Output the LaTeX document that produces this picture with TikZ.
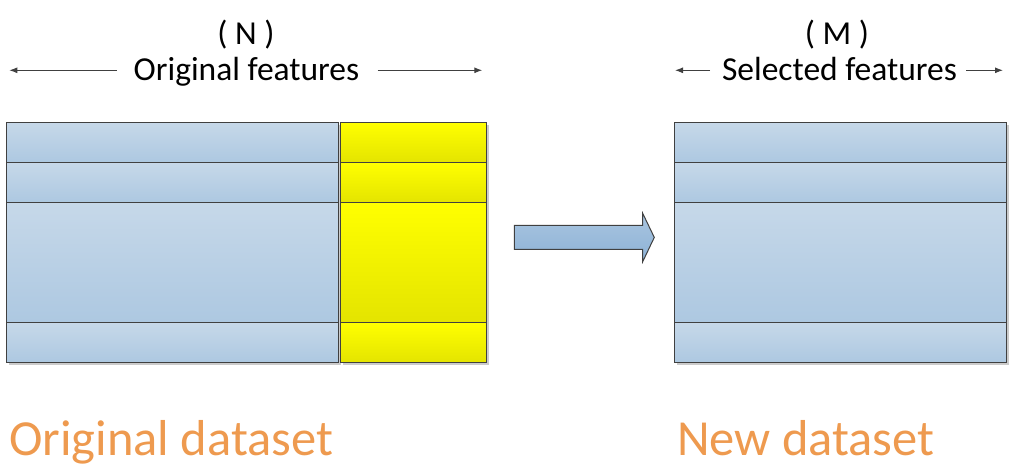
\documentclass[tikz,border=0pt]{standalone}
\usepackage{fontspec}
\setmainfont{Carlito}
\usetikzlibrary{arrows.meta}
\definecolor{bluetop}{HTML}{C6D8E9}
\definecolor{bluebot}{HTML}{ADC8E1}
\definecolor{yeltop}{HTML}{FFFF00}
\definecolor{yelbot}{HTML}{E4E400}
\definecolor{arrtop}{HTML}{A9C5E0}
\definecolor{arrbot}{HTML}{8DB2D6}
\definecolor{edge}{HTML}{404040}
\definecolor{shadowgray}{HTML}{CBCBCB}
\definecolor{orangetxt}{HTML}{EE9A4F}
\tikzset{
  cellbase/.style={draw=edge, line width=1.4pt, inner sep=0pt, outer sep=0pt, anchor=north west, minimum height=40pt},
  bluecell/.style={cellbase, top color=bluetop, bottom color=bluebot},
  yelcell/.style={cellbase, top color=yeltop, bottom color=yelbot},
  bigarrow/.style={draw=edge, line width=1pt, top color=arrtop, bottom color=arrbot, line join=miter},
  headtxt/.style={anchor=base, inner sep=0pt, font=\fontsize{33.5}{40}\selectfont},
  bigtxt/.style={anchor=base west, inner sep=0pt, text=orangetxt, font=\fontsize{50.5}{60}\selectfont},
  dimline/.style={draw=edge, line width=1pt, -{Latex[length=8pt,width=6pt]}}
}
\begin{document}
\begin{tikzpicture}[x=1pt,y=-1pt]
\useasboundingbox (0,0) rectangle (1017,468);
% shadows
\fill[shadowgray] (9.2,124.8) rectangle (341.2,364.8);
\fill[shadowgray] (343.2,124.8) rectangle (489.2,364.8);
\fill[shadowgray] (676.8,124.8) rectangle (1009.2,364.8);
% left blue column
\node[bluecell, minimum width=332pt] (b1) at (6.7,122.3) {};
\node[bluecell, minimum width=332pt] (b2) at (6.7,162.3) {};
\node[bluecell, minimum width=332pt, minimum height=120pt] (b3) at (6.7,202.3) {};
\node[bluecell, minimum width=332pt] (b4) at (6.7,322.3) {};
% yellow column
\node[yelcell, minimum width=146pt] (y1) at (340.7,122.3) {};
\node[yelcell, minimum width=146pt] (y2) at (340.7,162.3) {};
\node[yelcell, minimum width=146pt, minimum height=120pt] (y3) at (340.7,202.3) {};
\node[yelcell, minimum width=146pt] (y4) at (340.7,322.3) {};
% right table
\node[bluecell, minimum width=332.4pt] (n1) at (674.3,122.3) {};
\node[bluecell, minimum width=332.4pt] (n2) at (674.3,162.3) {};
\node[bluecell, minimum width=332.4pt, minimum height=120pt] (n3) at (674.3,202.3) {};
\node[bluecell, minimum width=332.4pt] (n4) at (674.3,322.3) {};
% big arrow
\path[bigarrow] (514.3,225.3) -- (642.7,225.3) -- (642.7,213.3) -- (654.3,237.4)
  -- (642.7,261.7) -- (642.7,249.3) -- (514.3,249.3) -- cycle;
% headings
\node[headtxt] (N) at (246,45) {( N )};
\node[headtxt] (of) at (246.5,81) {Original features};
\node[headtxt] (M) at (837,45) {( M )};
\node[headtxt] (sf) at (839.5,81) {Selected features};
% dimension arrows
\coordinate (ofl0) at (116.7,70.3);
\coordinate (ofl1) at (9.3,70.3);
\coordinate (ofr0) at (377.7,70.3);
\coordinate (ofr1) at (482.3,70.3);
\coordinate (sfl0) at (710,70.3);
\coordinate (sfl1) at (675,70.3);
\coordinate (sfr0) at (966,70.3);
\coordinate (sfr1) at (1003,70.3);
\draw[dimline] (ofl0) -- (ofl1);
\draw[dimline] (ofr0) -- (ofr1);
\draw[dimline] (sfl0) -- (sfl1);
\draw[dimline] (sfr0) -- (sfr1);
% bottom captions
\node[bigtxt] (od) at (9,455) {Original dataset};
\node[bigtxt] (nd) at (677,455) {New dataset};
\end{tikzpicture}
\end{document}
